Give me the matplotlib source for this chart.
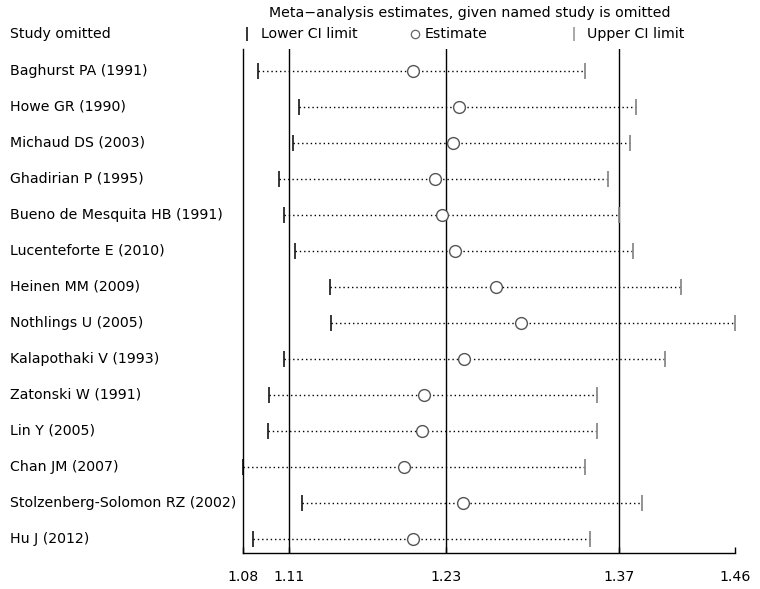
"""
Leave-one-out sensitivity plot (metaninf style):
meta-analysis estimate and CI with each named study omitted.
"""

import matplotlib
matplotlib.use("Agg")
import matplotlib.pyplot as plt
import matplotlib.transforms as mtransforms

plt.rcParams["font.family"] = ["DejaVu Sans"]
FS = 10.2

# -- Data --------------------------------------------------------------------
studies = [
    "Baghurst PA (1991)",
    "Howe GR (1990)",
    "Michaud DS (2003)",
    "Ghadirian P (1995)",
    "Bueno de Mesquita HB (1991)",
    "Lucenteforte E (2010)",
    "Heinen MM (2009)",
    "Nothlings U (2005)",
    "Kalapothaki V (1993)",
    "Zatonski W (1991)",
    "Lin Y (2005)",
    "Chan JM (2007)",
    "Stolzenberg-Solomon RZ (2002)",
    "Hu J (2012)",
]
estimate = [1.208, 1.243, 1.239, 1.225, 1.230, 1.240, 1.272,
            1.291, 1.247, 1.216, 1.215, 1.201, 1.246, 1.208]
lower_ci = [1.088, 1.119, 1.115, 1.104, 1.108, 1.116, 1.143,
            1.144, 1.108, 1.096, 1.095, 1.076, 1.122, 1.084]
upper_ci = [1.341, 1.380, 1.376, 1.359, 1.367, 1.378, 1.415,
            1.457, 1.403, 1.350, 1.350, 1.341, 1.385, 1.345]

# overall (no study omitted): lower CI, estimate, upper CI
overall = [1.112, 1.233, 1.3675]
axis_min, axis_max = 1.076, 1.457
tick_vals = [axis_min, overall[0], overall[1], overall[2], axis_max]
tick_labels = ["1.08", "1.11", "1.23", "1.37", "1.46"]

# -- Figure ------------------------------------------------------------------
W, H = 760, 589
fig = plt.figure(figsize=(W / 100, H / 100), dpi=100)
fig.patch.set_facecolor("white")
ax = fig.add_axes([243 / W, 1 - 553 / H, 492 / W, 504 / H])

n = len(studies)
rows = list(range(1, n + 1))
ax.set_xlim(axis_min, axis_max)
ax.set_ylim(n + 0.39, 0.39)

# reference lines at overall CI / estimate
for v in overall:
    ax.axvline(v, color="black", lw=1.0, zorder=1)

for y, lo, est, hi in zip(rows, lower_ci, estimate, upper_ci):
    ax.plot([lo, hi], [y, y], color="black", lw=1.0,
            linestyle=(0, (1, 2.1)), zorder=2, clip_on=False)
    ax.plot([lo], [y], marker="|", ms=11, mew=1.1, color="black",
            zorder=3, clip_on=False)
    ax.plot([hi], [y], marker="|", ms=11, mew=1.3, color="#8a8a8a",
            zorder=3, clip_on=False)
    ax.plot([est], [y], marker="o", ms=8.5, mfc="white", mec="#555555",
            mew=1.0, zorder=4, clip_on=False)

# study labels, left aligned at the figure edge
trans = mtransforms.blended_transform_factory(fig.transFigure, ax.transData)
for y, name in zip(rows, studies):
    ax.text(10 / W, y, name, transform=trans, ha="left", va="center",
            fontsize=FS, color="black")

# axes styling
for side in ("top", "right"):
    ax.spines[side].set_visible(False)
ax.spines["left"].set_linewidth(1.0)
ax.spines["bottom"].set_linewidth(1.0)
ax.set_yticks([])
ax.set_xticks(tick_vals)
ax.set_xticklabels(tick_labels, fontsize=FS)
ax.tick_params(axis="x", direction="in", length=4, width=1.0, pad=12)

# -- Header: title and legend row --------------------------------------------
def fy(py):
    return 1 - py / H

fig.text(470 / W, fy(13), "Meta\u2212analysis estimates, given named study is omitted",
         ha="center", va="center", fontsize=FS)
fig.text(10 / W, fy(34), "Study omitted", ha="left", va="center", fontsize=FS)

fig.lines.append(plt.Line2D([247 / W], [fy(34)], marker="|", ms=9.5, mew=1.1,
                            color="black", transform=fig.transFigure))
fig.text(261 / W, fy(34), "Lower CI limit", ha="left", va="center", fontsize=FS)
fig.lines.append(plt.Line2D([415 / W], [fy(34)], marker="o", ms=6, mfc="white",
                            mec="#666666", mew=0.9, transform=fig.transFigure))
fig.text(425 / W, fy(34), "Estimate", ha="left", va="center", fontsize=FS)
fig.lines.append(plt.Line2D([574 / W], [fy(34)], marker="|", ms=9.5, mew=1.2,
                            color="#9a9a9a", transform=fig.transFigure))
fig.text(587 / W, fy(34), "Upper CI limit", ha="left", va="center", fontsize=FS)

fig.savefig("out.png", dpi=100, facecolor="white")
plt.close(fig)
